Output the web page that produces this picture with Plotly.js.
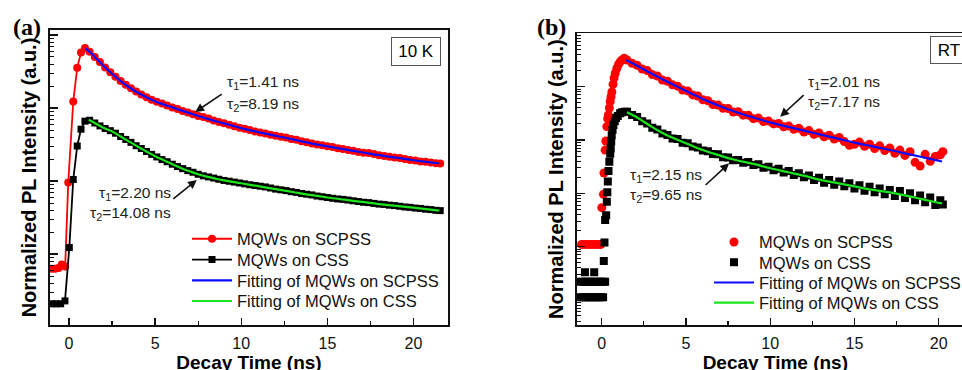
<!DOCTYPE html>
<html>
<head>
<meta charset="utf-8">
<script src="https://cdn.plot.ly/plotly-3.0.1.min.js"></script>
<style>
  html, body { margin: 0; padding: 0; background: #fff; overflow: hidden; width: 962px; height: 370px; }
  #chart { width: 1000px; height: 380px; }
</style>
</head>
<body>
<div id="chart"></div>
<script>
// ---------------- Panel (a): 10 K ----------------
const aRedRiseT = [-1.0, -0.8, -0.6, -0.42, -0.22, -0.04, 0.25, 0.48, 0.70, 0.93];
const aRedRiseI = [0.000631, 0.000631, 0.000646, 0.000724, 0.000676, 0.00955, 0.123, 0.355, 0.575, 0.661];
const aBlackRiseT = [-1.0, -0.75, -0.48, -0.23, 0.02, 0.25, 0.48, 0.70, 0.93];
const aBlackRiseI = [0.000209, 0.000209, 0.000209, 0.000229, 0.00123, 0.0105, 0.0302, 0.0513, 0.0661];
const aDecayT = [1.2, 1.5, 1.8, 2.1, 2.4, 2.7, 3.0, 3.3, 3.6, 3.9, 4.2, 4.5, 4.8, 5.1, 5.4, 5.7, 6.0, 6.3, 6.6, 6.9,
  7.2, 7.5, 7.8, 8.1, 8.4, 8.7, 9.0, 9.3, 9.6, 9.9, 10.2, 10.5, 10.8, 11.1, 11.4, 11.7, 12.0, 12.3, 12.6, 12.9,
  13.2, 13.5, 13.8, 14.1, 14.4, 14.7, 15.0, 15.3, 15.6, 15.9, 16.2, 16.5, 16.8, 17.1, 17.4, 17.7, 18.0, 18.3,
  18.6, 18.9, 19.2, 19.5, 19.8, 20.1, 20.4, 20.7, 21.0, 21.3, 21.55];
const aRedDecayI = [0.589, 0.501, 0.427, 0.359, 0.309, 0.269, 0.234, 0.209, 0.186, 0.168, 0.153, 0.140, 0.130, 0.122,
  0.115, 0.108, 0.102, 0.0966, 0.0912, 0.0871, 0.0822, 0.0776, 0.0752, 0.0718, 0.0676, 0.0646, 0.0617, 0.0589,
  0.0562, 0.0537, 0.0519, 0.0501, 0.0479, 0.0462, 0.0447, 0.0432, 0.0417, 0.0403, 0.0395, 0.0376, 0.0368, 0.0351,
  0.0339, 0.0327, 0.0316, 0.0309, 0.0299, 0.0292, 0.0282, 0.0275, 0.0266, 0.0260, 0.0251, 0.0245, 0.0243, 0.0235,
  0.0226, 0.0221, 0.0216, 0.0211, 0.0207, 0.0200, 0.0195, 0.0191, 0.0186, 0.0184, 0.0180, 0.0176, 0.0174];
const aBlackDecayI = [0.0680, 0.0624, 0.0569, 0.0525, 0.0490, 0.0452, 0.0407, 0.0372, 0.0339, 0.0305, 0.0279, 0.0254,
  0.0232, 0.0214, 0.0197, 0.0184, 0.0170, 0.0158, 0.0148, 0.0139, 0.0132, 0.0124, 0.0118, 0.0114, 0.0110, 0.0106,
  0.0102, 0.00995, 0.00968, 0.00942, 0.00916, 0.00891, 0.00871, 0.00851, 0.00832, 0.00804, 0.00776, 0.00759,
  0.00741, 0.00716, 0.00700, 0.00676, 0.00661, 0.00646, 0.00624, 0.00610, 0.00596, 0.00582, 0.00569, 0.00562,
  0.00550, 0.00537, 0.00525, 0.00513, 0.00507, 0.00495, 0.00484, 0.00479, 0.00468, 0.00462, 0.00452, 0.00442,
  0.00437, 0.00427, 0.00422, 0.00412, 0.00407, 0.00398, 0.00394];
const aFitRedT = [0.95, 1.25, 1.5, 2, 2.5, 3, 3.5, 4, 5, 6, 7, 8, 9, 10, 11, 12, 13, 14, 15, 16, 17, 18, 19, 20, 21, 21.5];
const aFitRedI = [0.661, 0.575, 0.501, 0.380, 0.295, 0.234, 0.193, 0.162, 0.124, 0.102, 0.0851, 0.0716, 0.0617,
  0.0531, 0.0468, 0.0417, 0.0372, 0.0331, 0.0299, 0.0272, 0.0248, 0.0226, 0.0209, 0.0193, 0.0180, 0.0174];
const aFitBlackT = [1.15, 1.5, 2, 2.5, 3, 3.5, 4, 4.5, 5, 5.5, 6, 6.5, 7, 7.5, 8, 8.5, 9, 10, 11, 12, 13, 14, 15, 16,
  17, 18, 19, 20, 21, 21.5];
const aFitBlackI = [0.0692, 0.0624, 0.0537, 0.0479, 0.0407, 0.0347, 0.0295, 0.0254, 0.0219, 0.0193, 0.0170, 0.0151,
  0.0136, 0.0124, 0.0115, 0.0108, 0.0102, 0.00933, 0.00851, 0.00776, 0.00708, 0.00646, 0.00596, 0.00556, 0.00519,
  0.00484, 0.00457, 0.00432, 0.00407, 0.00394];

// ---------------- Panel (b): RT ----------------
const bRedPreT = [-1.2, -1.05, -0.9, -0.75, -0.6, -0.45, -0.3, -0.15, -0.05];
const bRedPreI = [0.00011, 0.00011, 0.00011, 0.00011, 0.00011, 0.00011, 0.00011, 0.00011, 0.00011];
const bRedRiseT = [0.0, 0.1, 0.13, 0.2, 0.24, 0.3, 0.35, 0.39, 0.45, 0.5, 0.55, 0.6, 0.67, 0.73, 0.8, 0.89, 1.0, 1.1, 1.2, 1.33];
const bRedRiseI = [0.000537, 0.000955, 0.0024, 0.00646, 0.00955, 0.0178, 0.0251, 0.0295, 0.0398, 0.0525, 0.0646,
  0.0794, 0.110, 0.145, 0.178, 0.219, 0.263, 0.295, 0.316, 0.339];
const bBlackPreT = [-1.25, -1.1, -0.95, -0.8, -0.65, -0.5, -0.35, -0.2, -0.05, 0.1, 0.2,
  -1.25, -1.1, -0.95, -0.8, -0.65, -0.5, -0.35, -0.2, -0.05, 0.08, -1.0, -0.45];
const bBlackPreI = [2.19e-5, 2.19e-5, 2.19e-5, 2.19e-5, 2.19e-5, 2.19e-5, 2.19e-5, 2.19e-5, 2.19e-5, 2.19e-5, 2.19e-5,
  1.12e-5, 1.12e-5, 1.12e-5, 1.12e-5, 1.12e-5, 1.12e-5, 1.12e-5, 1.12e-5, 1.12e-5, 1.12e-5, 3.31e-5, 3.31e-5];
const bBlackRiseT = [0.12, 0.16, 0.2, 0.26, 0.3, 0.33, 0.36, 0.4, 0.45, 0.5, 0.53, 0.56, 0.59, 0.64, 0.69, 0.77, 0.85, 0.95, 1.09, 1.2, 1.38];
const bBlackRiseI = [5.37e-5, 0.00012, 0.000316, 0.000389, 0.000692, 0.00105, 0.00166, 0.00263, 0.00389, 0.0055,
  0.00692, 0.00933, 0.0123, 0.0155, 0.0191, 0.0224, 0.0257, 0.0282, 0.0316, 0.0331, 0.0339];
const bDecayT = [1.5, 1.8, 2.1, 2.4, 2.7, 3.0, 3.3, 3.6, 3.9, 4.2, 4.5, 4.8, 5.1, 5.4, 5.7, 6.0, 6.3, 6.6, 6.9, 7.2,
  7.5, 7.8, 8.1, 8.4, 8.7, 9.0, 9.3, 9.6, 9.9, 10.2, 10.5, 10.8, 11.1, 11.4, 11.7, 12.0, 12.3, 12.6, 12.9, 13.2,
  13.5, 13.8, 14.1, 14.4, 14.7, 15.0, 15.3, 15.6, 15.9, 16.2, 16.5, 16.8, 17.1, 17.4, 17.7, 18.0, 18.3, 18.6,
  18.9, 19.2, 19.5, 19.8, 20.1, 20.25];
const bRedDecayI = [0.316, 0.275, 0.251, 0.214, 0.200, 0.168, 0.158, 0.133, 0.126, 0.108, 0.102, 0.0861, 0.0832,
  0.0700, 0.0668, 0.0569, 0.0543, 0.0462, 0.0452, 0.0394, 0.0389, 0.0335, 0.0339, 0.0292, 0.0292, 0.0251, 0.0257,
  0.0221, 0.0226, 0.0200, 0.0204, 0.0176, 0.0182, 0.0158, 0.0166, 0.0141, 0.0150, 0.0127, 0.0135, 0.0115, 0.0123,
  0.0104, 0.0111, 0.00933, 0.00794, 0.00832, 0.00912, 0.00759, 0.00832, 0.00692, 0.00776, 0.00631, 0.00708,
  0.00562, 0.00646, 0.00513, 0.00603, 0.00380, 0.00324, 0.00537, 0.00398, 0.00490, 0.00525, 0.00603];
const bBlackDecayI = [0.0339, 0.0295, 0.0269, 0.0224, 0.0204, 0.0170, 0.0157, 0.0132, 0.0124, 0.0107, 0.0104,
  0.00891, 0.00871, 0.00750, 0.00724, 0.00631, 0.00617, 0.00543, 0.00537, 0.00473, 0.00468, 0.00417, 0.00422,
  0.00372, 0.00385, 0.00339, 0.00351, 0.00302, 0.00316, 0.00269, 0.00288, 0.00245, 0.00263, 0.00221, 0.00237,
  0.00200, 0.00216, 0.00178, 0.00195, 0.00158, 0.00178, 0.00145, 0.00166, 0.00135, 0.00155, 0.00123, 0.00141,
  0.00112, 0.00132, 0.00105, 0.00123, 0.000955, 0.00115, 0.000891, 0.00110, 0.000813, 0.00100, 0.000741,
  0.000912, 0.000676, 0.000832, 0.000603, 0.000741, 0.000617];
const bFitRedT = [1.44, 2, 2.5, 3, 3.5, 4, 4.5, 5, 5.5, 6, 6.5, 7, 7.5, 8, 9, 10, 11, 12, 13, 14, 15, 16, 17, 18, 19, 20, 20.2];
const bFitRedI = [0.316, 0.257, 0.209, 0.172, 0.143, 0.119, 0.0989, 0.0832, 0.0700, 0.0589, 0.0501, 0.0432, 0.0376,
  0.0331, 0.0263, 0.0214, 0.0178, 0.0150, 0.0126, 0.0106, 0.00891, 0.00767, 0.00661, 0.00562, 0.00479, 0.00407, 0.00394];
const bFitBlackT = [1.5, 2, 2.5, 3, 3.5, 4, 5, 6, 7, 7.5, 8, 9, 10, 11, 12, 13, 14, 15, 16, 17, 18, 19, 20, 20.2];
const bFitBlackI = [0.0331, 0.0275, 0.0219, 0.0174, 0.0141, 0.0117, 0.00871, 0.00646, 0.00513, 0.00457, 0.00417,
  0.00355, 0.00295, 0.00251, 0.00214, 0.00178, 0.00155, 0.00135, 0.00117, 0.00105, 0.000912, 0.000776, 0.000661, 0.000646];

const legendNames = ['MQWs on SCPSS', 'MQWs on CSS', 'Fitting of MQWs on SCPSS', 'Fitting of MQWs on CSS'];
const tauLabels = {
  a1: ['τ<sub>1</sub>=1.41 ns', 'τ<sub>2</sub>=8.19 ns'],
  a2: ['τ<sub>1</sub>=2.20 ns', 'τ<sub>2</sub>=14.08 ns'],
  b1: ['τ<sub>1</sub>=2.01 ns', 'τ<sub>2</sub>=7.17 ns'],
  b2: ['τ<sub>1</sub>=2.15 ns', 'τ<sub>2</sub>=9.65 ns']
};

const RED = '#ff0000', BLACK = '#000000', BLUE = '#0a0aff', GREEN = '#1be51b';
const FONT = 'Liberation Sans, Arial, sans-serif';

const traces = [
  { x: aRedRiseT.concat(aDecayT), y: aRedRiseI.concat(aRedDecayI), name: legendNames[0], mode: 'lines+markers',
    line: { color: RED, width: 1.8 }, marker: { symbol: 'circle', size: 8, color: RED }, xaxis: 'x', yaxis: 'y', legend: 'legend' },
  { x: aBlackRiseT.concat(aDecayT), y: aBlackRiseI.concat(aBlackDecayI), name: legendNames[1], mode: 'lines+markers',
    line: { color: BLACK, width: 1.8 }, marker: { symbol: 'square', size: 7, color: BLACK }, xaxis: 'x', yaxis: 'y', legend: 'legend2' },
  { x: aFitRedT, y: aFitRedI, name: legendNames[2], mode: 'lines', line: { color: BLUE, width: 2.2, shape: 'spline' },
    xaxis: 'x', yaxis: 'y', legend: 'legend3' },
  { x: aFitBlackT, y: aFitBlackI, name: legendNames[3], mode: 'lines', line: { color: GREEN, width: 2.2, shape: 'spline' },
    xaxis: 'x', yaxis: 'y', legend: 'legend4' },
  { x: bRedPreT.concat(bRedRiseT, bDecayT), y: bRedPreI.concat(bRedRiseI, bRedDecayI), name: legendNames[0], mode: 'markers',
    marker: { symbol: 'circle', size: 9, color: RED }, xaxis: 'x2', yaxis: 'y2', legend: 'legend5' },
  { x: bBlackPreT.concat(bBlackRiseT, bDecayT), y: bBlackPreI.concat(bBlackRiseI, bBlackDecayI), name: legendNames[1], mode: 'markers',
    marker: { symbol: 'square', size: 8, color: BLACK }, xaxis: 'x2', yaxis: 'y2', legend: 'legend6' },
  { x: bFitRedT, y: bFitRedI, name: legendNames[2], mode: 'lines', line: { color: BLUE, width: 2.2, shape: 'spline' },
    xaxis: 'x2', yaxis: 'y2', legend: 'legend7' },
  { x: bFitBlackT, y: bFitBlackI, name: legendNames[3], mode: 'lines', line: { color: GREEN, width: 2.2, shape: 'spline' },
    xaxis: 'x2', yaxis: 'y2', legend: 'legend8' }
];

function xAxis(domain, range, anchor) {
  return {
    domain: domain, range: range, anchor: anchor, automargin: false,
    tickvals: [0, 5, 10, 15, 20], ticks: 'inside', ticklen: 7, tickwidth: 1.3, tickcolor: '#111',
    minor: { dtick: 2.5, tick0: 0, ticks: 'inside', ticklen: 4, tickwidth: 1.2, tickcolor: '#111' },
    showline: true, linecolor: '#111', linewidth: 1.6, mirror: true,
    showgrid: false, zeroline: false, ticklabelstandoff: 3,
    tickfont: { family: FONT, size: 16, color: '#111' },
    title: { text: '<b>Decay Time (ns)</b>', font: { family: FONT, size: 19, color: '#000' }, standoff: 0 }
  };
}
function yAxis(domain, range, anchor) {
  return {
    type: 'log', domain: domain, range: range, anchor: anchor, automargin: false,
    dtick: 1, ticks: 'inside', ticklen: 8, tickwidth: 1.3, tickcolor: '#111',
    minor: { dtick: 'D1', ticks: 'inside', ticklen: 4, tickwidth: 1, tickcolor: '#111' },
    showticklabels: false,
    showline: true, linecolor: '#111', linewidth: 1.6, mirror: true,
    showgrid: false, zeroline: false,
    title: { text: '<b>Normalized PL Intensity (a.u.)</b>', font: { family: FONT, size: 20, color: '#000' }, standoff: 6 }
  };
}

const tauFont = { family: FONT, size: 15.5, color: '#222' };
function txt(xref, yref, x, y, text, xanchor) {
  return { xref: xref, yref: yref, x: x, y: y, text: text, showarrow: false, xanchor: xanchor, yanchor: 'middle', font: tauFont };
}
function arrow(xref, yref, x, y, ax, ay) {
  return { xref: xref, yref: yref, x: x, y: y, ax: ax, ay: ay, text: '', showarrow: true,
    arrowhead: 2, arrowsize: 1.1, arrowwidth: 1.6, arrowcolor: '#111' };
}
const panelFont = { family: 'Liberation Serif, Times New Roman, serif', size: 24, color: '#000' };

const annotations = [
  { xref: 'paper', yref: 'paper', x: -0.0249, y: 1.010, xanchor: 'center', yanchor: 'middle', text: '<b>(a)</b>',
    showarrow: false, font: panelFont },
  { xref: 'paper', yref: 'paper', x: 0.5427, y: 1.0085, xanchor: 'center', yanchor: 'middle', text: '<b>(b)</b>',
    showarrow: false, font: panelFont },
  { xref: 'x', yref: 'y', x: 20.16, y: -0.223, text: '10 K', showarrow: false, bordercolor: '#555', borderwidth: 1,
    borderpad: 4, width: 40, height: 19, font: { family: FONT, size: 17, color: '#000' } },
  { xref: 'x2', yref: 'y2', x: 20.6, y: -0.313, text: 'RT', showarrow: false, bordercolor: '#555', borderwidth: 1,
    borderpad: 4, width: 28, height: 18, font: { family: FONT, size: 17, color: '#000' } },
  txt('x', 'y', 9.07, -0.644, tauLabels.a1[0], 'left'),
  txt('x', 'y', 9.07, -0.945, tauLabels.a1[1], 'left'),
  arrow('x', 'y', 7.33, -1.055, 28, -19),
  txt('x', 'y', 6.05, -2.164, tauLabels.a2[0], 'right'),
  txt('x', 'y', 6.05, -2.438, tauLabels.a2[1], 'right'),
  arrow('x', 'y', 7.42, -1.986, -25, 20),
  txt('x2', 'y2', 12.14, -0.914, tauLabels.b1[0], 'left'),
  txt('x2', 'y2', 12.14, -1.289, tauLabels.b1[1], 'left'),
  arrow('x2', 'y2', 10.59, -1.565, 25, -23),
  txt('x2', 'y2', 1.545, -2.659, tauLabels.b2[0], 'left'),
  txt('x2', 'y2', 1.545, -3.034, tauLabels.b2[1], 'left'),
  arrow('x2', 'y2', 7.56, -2.439, -25, 23)
];

function legendAt(x, y) {
  return {
    font: { family: FONT, size: 16.5, color: '#111' }, bgcolor: 'rgba(0,0,0,0)', borderwidth: 0,
    xref: 'paper', yref: 'paper', xanchor: 'left', yanchor: 'top', itemwidth: 40, x: x, y: y
  };
}

const layout = {
  width: 1000, height: 380,
  margin: { l: 50, r: 26, t: 30, b: 55, autoexpand: false },
  paper_bgcolor: '#fff', plot_bgcolor: '#fff',
  showlegend: true,
  font: { family: FONT, color: '#111' },
  xaxis: xAxis([0, 0.4307], [-1.1, 22.0], 'y'),
  yaxis: yAxis([0, 1], [-3.97, 0.068], 'x'),
  xaxis2: xAxis([0.570, 1], [-1.49, 22.1], 'y2'),
  yaxis2: yAxis([0, 0.9888], [-5.47, 0], 'x2'),
  legend: legendAt(0.1483, 0.3508),
  legend2: legendAt(0.1483, 0.2803),
  legend3: legendAt(0.1483, 0.2098),
  legend4: legendAt(0.1483, 0.1397),
  legend5: legendAt(0.7132, 0.3397),
  legend6: legendAt(0.7132, 0.2712),
  legend7: legendAt(0.7132, 0.2024),
  legend8: legendAt(0.7132, 0.1339),
  annotations: annotations
};

Plotly.newPlot('chart', traces, layout, { displayModeBar: false, staticPlot: true });
</script>
</body>
</html>
